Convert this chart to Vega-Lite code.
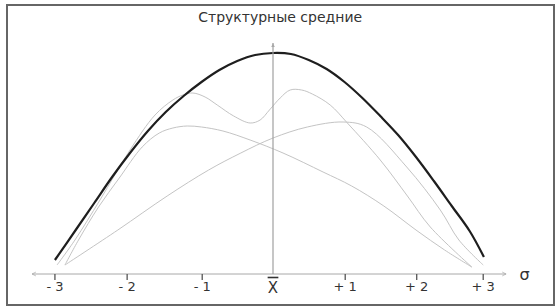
{
  "$schema": "https://vega.github.io/schema/vega-lite/v6.json",
  "width": 547,
  "height": 300,
  "autosize": {"type": "none"},
  "padding": {"left": 7, "top": 5, "right": 6, "bottom": 2},
  "background": "white",
  "config": {"view": {"stroke": "#666", "strokeWidth": 2}},
  "datasets": {
    "curves": [
      {"s": "K", "x": -3.05, "y": 14}, {"s": "K", "x": -2.75, "y": 45}, {"s": "K", "x": -2.5, "y": 71},
      {"s": "K", "x": -2.25, "y": 97}, {"s": "K", "x": -2.0, "y": 121}, {"s": "K", "x": -1.75, "y": 143},
      {"s": "K", "x": -1.5, "y": 162}, {"s": "K", "x": -1.25, "y": 178}, {"s": "K", "x": -1.0, "y": 192},
      {"s": "K", "x": -0.75, "y": 204}, {"s": "K", "x": -0.5, "y": 213}, {"s": "K", "x": -0.25, "y": 219},
      {"s": "K", "x": 0, "y": 221}, {"s": "K", "x": 0.25, "y": 220}, {"s": "K", "x": 0.5, "y": 214},
      {"s": "K", "x": 0.75, "y": 205}, {"s": "K", "x": 1.0, "y": 192}, {"s": "K", "x": 1.25, "y": 176},
      {"s": "K", "x": 1.5, "y": 158}, {"s": "K", "x": 1.75, "y": 139}, {"s": "K", "x": 2.0, "y": 117},
      {"s": "K", "x": 2.25, "y": 93}, {"s": "K", "x": 2.5, "y": 68}, {"s": "K", "x": 2.75, "y": 43},
      {"s": "K", "x": 2.95, "y": 17},
      {"s": "A", "x": -3.02, "y": 9}, {"s": "A", "x": -2.77, "y": 34}, {"s": "A", "x": -2.42, "y": 74},
      {"s": "A", "x": -2.0, "y": 124}, {"s": "A", "x": -1.65, "y": 159}, {"s": "A", "x": -1.4, "y": 174},
      {"s": "A", "x": -1.26, "y": 179}, {"s": "A", "x": -1.12, "y": 181}, {"s": "A", "x": -0.95, "y": 177},
      {"s": "A", "x": -0.78, "y": 169}, {"s": "A", "x": -0.55, "y": 158}, {"s": "A", "x": -0.32, "y": 151},
      {"s": "A", "x": -0.18, "y": 154}, {"s": "A", "x": -0.05, "y": 164}, {"s": "A", "x": 0.1, "y": 176},
      {"s": "A", "x": 0.24, "y": 184}, {"s": "A", "x": 0.4, "y": 184}, {"s": "A", "x": 0.55, "y": 180},
      {"s": "A", "x": 0.8, "y": 169}, {"s": "A", "x": 1.04, "y": 151}, {"s": "A", "x": 1.5, "y": 114},
      {"s": "A", "x": 1.88, "y": 78}, {"s": "A", "x": 2.2, "y": 47}, {"s": "A", "x": 2.78, "y": 7},
      {"s": "B", "x": -2.91, "y": 9}, {"s": "B", "x": -2.72, "y": 34}, {"s": "B", "x": -2.44, "y": 67},
      {"s": "B", "x": -2.15, "y": 96}, {"s": "B", "x": -1.83, "y": 127}, {"s": "B", "x": -1.59, "y": 141},
      {"s": "B", "x": -1.4, "y": 146}, {"s": "B", "x": -1.2, "y": 148}, {"s": "B", "x": -1.0, "y": 147},
      {"s": "B", "x": -0.7, "y": 143}, {"s": "B", "x": -0.32, "y": 134}, {"s": "B", "x": 0.14, "y": 121},
      {"s": "B", "x": 0.7, "y": 102}, {"s": "B", "x": 1.1, "y": 88}, {"s": "B", "x": 1.55, "y": 68},
      {"s": "B", "x": 2.0, "y": 44}, {"s": "B", "x": 2.4, "y": 24}, {"s": "B", "x": 2.78, "y": 7},
      {"s": "C", "x": -2.91, "y": 9}, {"s": "C", "x": -2.17, "y": 44}, {"s": "C", "x": -1.48, "y": 78},
      {"s": "C", "x": -0.9, "y": 104}, {"s": "C", "x": -0.45, "y": 121}, {"s": "C", "x": 0, "y": 136},
      {"s": "C", "x": 0.48, "y": 147}, {"s": "C", "x": 0.98, "y": 152}, {"s": "C", "x": 1.31, "y": 147},
      {"s": "C", "x": 1.87, "y": 107}, {"s": "C", "x": 2.34, "y": 64}, {"s": "C", "x": 2.6, "y": 34},
      {"s": "C", "x": 2.94, "y": 9}
    ],
    "ticks": [
      {"x": -3.05, "y": 0, "y2": -6, "label": "-  3"},
      {"x": -2.04, "y": 0, "y2": -6, "label": "-  2"},
      {"x": -0.99, "y": 0, "y2": -6, "label": "-  1"},
      {"x": 1.01, "y": 0, "y2": -6, "label": "+  1"},
      {"x": 2.01, "y": 0, "y2": -6, "label": "+  2"},
      {"x": 2.94, "y": 0, "y2": -6, "label": "+  3"}
    ],
    "texts": [
      {"x": 0.1, "y": 256, "t": "Структурные средние", "k": "title"},
      {"x": 3.52, "y": -1, "t": "σ", "k": "sigma"},
      {"x": 0.0, "y": -14, "t": "X", "k": "mean"}
    ]
  },
  "encoding": {
    "x": {"field": "x", "type": "quantitative", "scale": {"domain": [-3.7203, 3.9301], "nice": false, "zero": false}, "axis": null},
    "y": {"field": "y", "type": "quantitative", "scale": {"domain": [-31, 269], "nice": false, "zero": false}, "axis": null}
  },
  "layer": [
    {
      "data": {"name": "curves"},
      "transform": [{"filter": "datum.s !== 'K'"}],
      "mark": {"type": "line", "interpolate": "catmull-rom", "stroke": "#c4c4c4", "strokeWidth": 1},
      "encoding": {"detail": {"field": "s"}}
    },
    {
      "data": {"name": "curves"},
      "transform": [{"filter": "datum.s === 'K'"}],
      "mark": {"type": "line", "interpolate": "catmull-rom", "stroke": "#1e1e1e", "strokeWidth": 2.2}
    },
    {
      "data": {"values": [{"x": -3.37, "x2": 3.26, "y": 0}]},
      "mark": {"type": "rule", "stroke": "#a8a8a8", "strokeWidth": 1},
      "encoding": {"x2": {"field": "x2"}}
    },
    {
      "data": {"values": [{"x": 0, "y": 0, "y2": 231}]},
      "mark": {"type": "rule", "stroke": "#a0a0a0", "strokeWidth": 1.2},
      "encoding": {"y2": {"field": "y2"}}
    },
    {
      "data": {"values": [{"x": -3.37, "y": 0}]},
      "mark": {"type": "point", "shape": "M1.4,-0.7L0,0L1.4,0.7", "filled": false, "stroke": "#a8a8a8", "strokeWidth": 1, "size": 30}
    },
    {
      "data": {"values": [{"x": 3.26, "y": 0}]},
      "mark": {"type": "point", "shape": "M-1.4,-0.7L0,0L-1.4,0.7", "filled": false, "stroke": "#a8a8a8", "strokeWidth": 1, "size": 30}
    },
    {
      "data": {"values": [{"x": 0, "y": 231}]},
      "mark": {"type": "point", "shape": "M0,0L-0.7,1.6L0.7,1.6Z", "filled": true, "fill": "#a8a8a8", "opacity": 1, "size": 25}
    },
    {
      "data": {"name": "ticks"},
      "mark": {"type": "rule", "stroke": "#555", "strokeWidth": 1.3},
      "encoding": {"y2": {"field": "y2"}}
    },
    {
      "data": {"values": [{"x": -0.075, "x2": 0.075, "y": -3.5}]},
      "mark": {"type": "rule", "stroke": "#333", "strokeWidth": 1.6},
      "encoding": {"x2": {"field": "x2"}}
    },
    {
      "data": {"name": "ticks"},
      "mark": {"type": "text", "font": "DejaVu Sans", "fontSize": 13, "fill": "#333", "baseline": "middle", "align": "center", "dy": 13},
      "encoding": {"text": {"field": "label"}}
    },
    {
      "data": {"name": "texts"},
      "transform": [{"filter": "datum.k === 'title'"}],
      "mark": {"type": "text", "font": "DejaVu Sans", "fontSize": 14, "fill": "#333", "baseline": "middle", "align": "center"},
      "encoding": {"text": {"field": "t"}}
    },
    {
      "data": {"name": "texts"},
      "transform": [{"filter": "datum.k === 'sigma'"}],
      "mark": {"type": "text", "font": "DejaVu Sans", "fontSize": 16, "fill": "#333", "baseline": "middle", "align": "center"},
      "encoding": {"text": {"field": "t"}}
    },
    {
      "data": {"name": "texts"},
      "transform": [{"filter": "datum.k === 'mean'"}],
      "mark": {"type": "text", "font": "DejaVu Sans", "fontSize": 15, "fill": "#333", "baseline": "middle", "align": "center"},
      "encoding": {"text": {"field": "t"}}
    }
  ]
}
